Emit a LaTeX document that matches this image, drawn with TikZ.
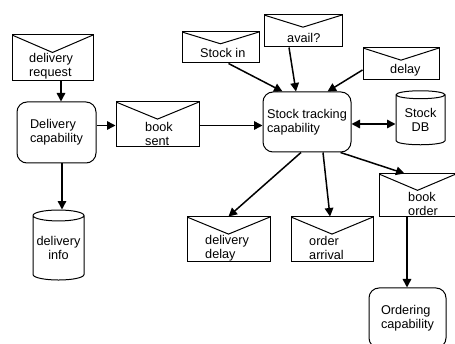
\documentclass[tikz,border=0pt]{standalone}
\usepackage{fontspec}
\setmainfont{Liberation Sans}
\usetikzlibrary{arrows.meta, calc, shapes.geometric}
\tikzset{
  msg/.style = {rectangle, draw=black, line width=1pt, minimum height=45pt,
    path picture={\draw[line width=1pt] (path picture bounding box.north west)
      -- ($(path picture bounding box.north)!0.38!(path picture bounding box.south)$)
      -- (path picture bounding box.north east);}},
  msgtxt/.style = {align=left, anchor=west, inner sep=0pt},
  capbox/.style = {rectangle, draw=black, line width=1pt, rounded corners=10pt, align=left, inner sep=0pt},
  store/.style = {cylinder, shape border rotate=90, draw=black, line width=1pt, aspect=0.25, align=center, inner sep=0pt},
  arr/.style = {line width=1.5pt, -{Triangle[length=8.5pt,width=8.5pt]}},
  arrs/.style = {line width=1.5pt, {Triangle[length=8.5pt,width=8.5pt]}-{Triangle[length=8.5pt,width=8.5pt]}}
}

\begin{document}
\begin{tikzpicture}[x=1pt, y=-1pt, font=\fontsize{12.7}{14}\selectfont]
\useasboundingbox (0,0) rectangle (455,344);

% Messages (envelopes)
\node[msg, minimum width=81pt, minimum height=46pt] (dreq) at (52.5,58) {};
\node[msgtxt] (dreq-t) at (29,66.5) {delivery\\request};
\node[msg, minimum width=83pt] (bks) at (157.5,124.5) {};
\node[msgtxt] (bks-t) at (145,133.5) {book\\sent};
\node[msg, minimum width=77pt, minimum height=31pt] (sin) at (220.5,47.5) {};
\node[msgtxt] (sin-t) at (200,53) {Stock in};
\node[msg, minimum width=78pt, minimum height=32pt] (avl) at (303,31) {};
\node[msgtxt] (avl-t) at (287,38) {avail?};
\node[msg, minimum width=76pt, minimum height=32pt] (dly) at (401,64) {};
\node[msgtxt] (dly-t) at (390,70) {delay};
\node[msg, minimum width=77pt, minimum height=43pt] (bko) at (417.5,195.5) {};
\node[msgtxt] (bko-t) at (408,204) {book\\order};
\node[msg, minimum width=83pt] (ddl) at (228.5,239.5) {};
\node[msgtxt] (ddl-t) at (205,248) {delivery\\delay};
\node[msg, minimum width=82pt] (oarr) at (332,239.5) {};
\node[msgtxt] (oarr-t) at (309,248) {order\\arrival};

% Capabilities
\node[capbox, minimum width=79pt, minimum height=61pt] (dcap) at (56.5,132.5) {Delivery\\capability};
\node[capbox, minimum width=88pt, minimum height=60pt] (stc) at (307,122) {Stock tracking\\capability};
\node[capbox, minimum width=77pt, minimum height=60pt] (ord) at (407.5,318) {Ordering\\capability};

% Stores
\node[store, minimum width=49pt, minimum height=54pt] (sdb) at (420.5,120) {Stock\\DB};
\node[store, minimum width=51pt, minimum height=70pt] (dinf) at (58.5,248) {delivery\\info};

% Arrows
\draw[arr] ([xshift=8.5]dreq.south) -- ([xshift=8.5]dreq.south |- dcap.north);
\draw[arr] ([yshift=-1]bks.west -| dcap.east) -- ([yshift=-1]bks.west);
\draw[arr] ([yshift=-1]bks.east) -- ([yshift=-1]bks.east -| stc.west);
\draw[arr] ([xshift=5.5]dcap.south) -- ([xshift=5.5]dcap.south |- dinf.north);

\draw[arr] ([xshift=8]sin.south) -- ([xshift=20]stc.north west);
\draw[arr] ([xshift=-14]avl.south) -- ([xshift=-11]stc.north);
\draw[arr] ([yshift=-6]dly.west) -- ([xshift=-24]stc.north east);
\draw[arrs] ([yshift=-2]stc.east) -- ([yshift=-2]stc.east -| sdb.west);

\draw[arr] ([xshift=-6]stc.south) -- (ddl.north);
\draw[arr] ([xshift=16]stc.south) -- ([xshift=-2]oarr.north);
\draw[arr] ([xshift=-11]stc.south east) -- ([xshift=-13]bko.north);
\draw[arr] ([xshift=-10.5]bko.south) -- ([xshift=-10.5]bko.south |- ord.north);

\end{tikzpicture}
\end{document}
